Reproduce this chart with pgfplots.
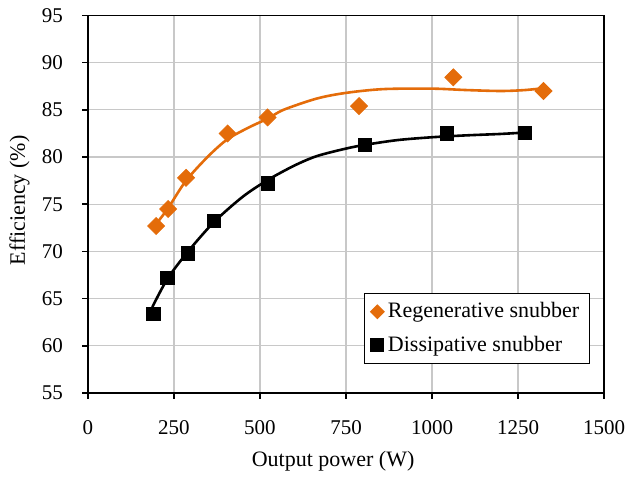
\documentclass[border=0pt]{standalone}
\usepackage{fontspec}
\setmainfont{Liberation Serif}
\usepackage{pgfplots}
\pgfplotsset{compat=1.18}
\definecolor{regOrange}{RGB}{228,108,10}
\definecolor{gridGray}{RGB}{200,200,200}

\begin{document}
\fontsize{10.5}{12.6}\selectfont
\begin{tikzpicture}
\begin{axis}[
    scale only axis,
    width=258pt, height=188.75pt,
    xmin=0, xmax=1500, ymin=55, ymax=95,
    xtick={0,250,...,1500}, ytick={55,60,...,95},
    scaled x ticks=false,
    /pgf/number format/1000 sep={},
    /pgf/number format/assume math mode=true,
    grid=major, grid style={gridGray, line width=0.6pt},
    axis line style={black, line width=0.8pt},
    tick style={black, line width=0.8pt},
    tick align=outside, major tick length=2.8pt,
    xtick pos=bottom, ytick pos=left,
    yticklabel style={anchor=east, inner sep=0pt, xshift=-9.5pt},
    xticklabel style={anchor=north, inner sep=0pt, yshift=-11pt},
    xlabel={Output power (W)},
    ylabel={Efficiency (\%)},
    label style={font=\fontsize{11}{13}\selectfont},
    xlabel style={at={(axis description cs:0.475,0)}, anchor=center, yshift=-34pt},
    ylabel style={at={(axis description cs:-0.1328,0.51)}, anchor=center},
    legend image code/.code={\draw[#1] plot coordinates {(0.1cm,0cm)};},
    legend cell align=left,
    legend style={at={(0.535,0.265)}, anchor=north west, draw=black,
        line width=0.6pt, row sep=3.5pt, inner xsep=3pt, inner ysep=2.5pt,
        font=\fontsize{11}{13}\selectfont},
]
\addlegendimage{only marks, mark=square*, mark size=2.35pt,
    mark options={rotate=45, fill=regOrange, draw=regOrange}}
\addlegendentry{Regenerative snubber}
\addlegendimage{only marks, mark=square*, mark size=3.2pt,
    mark options={fill=black, draw=black}}
\addlegendentry{Dissipative snubber}

% trendlines
\addplot[forget plot, regOrange, line width=1.3pt, smooth, tension=0.5] coordinates {
    (198,72.9) (233,74.6) (285,77.5) (350,80.1) (406,81.9) (471,83.2)
    (524,84.1) (568,85.0) (665,86.2) (750,86.8) (858,87.2) (1000,87.25)
    (1100,87.1) (1200,87.0) (1270,87.1) (1324,87.3)};
\addplot[forget plot, black, line width=1.3pt, smooth, tension=0.5] coordinates {
    (187,64.1) (231,67.1) (291,70.0) (366,73.1) (450,75.8) (524,77.6)
    (600,79.1) (665,80.1) (750,80.9) (806,81.3) (900,81.8) (1000,82.1)
    (1100,82.3) (1200,82.45) (1270,82.6)};

% measured points
\addplot[forget plot, only marks, mark=square*, mark size=3pt,
    mark options={rotate=45, fill=regOrange, draw=regOrange}] coordinates {
    (198,72.7) (233,74.5) (285,77.8) (406,82.5) (522,84.2)
    (788,85.4) (1062,88.45) (1324,87.0)};
\addplot[forget plot, only marks, mark=square*, mark size=3.3pt,
    mark options={fill=black, draw=black}] coordinates {
    (190,63.4) (231,67.2) (291,69.8) (366,73.2) (523,77.2)
    (806,81.3) (1043,82.5) (1270,82.6)};

\path (rel axis cs:0,0) coordinate (sw) (rel axis cs:1,1) coordinate (ne);
\end{axis}
\pgfresetboundingbox
\useasboundingbox ([shift={(-44pt,-43.75pt)}]sw) rectangle ([shift={(11pt,7.75pt)}]ne);
\end{tikzpicture}
\end{document}
